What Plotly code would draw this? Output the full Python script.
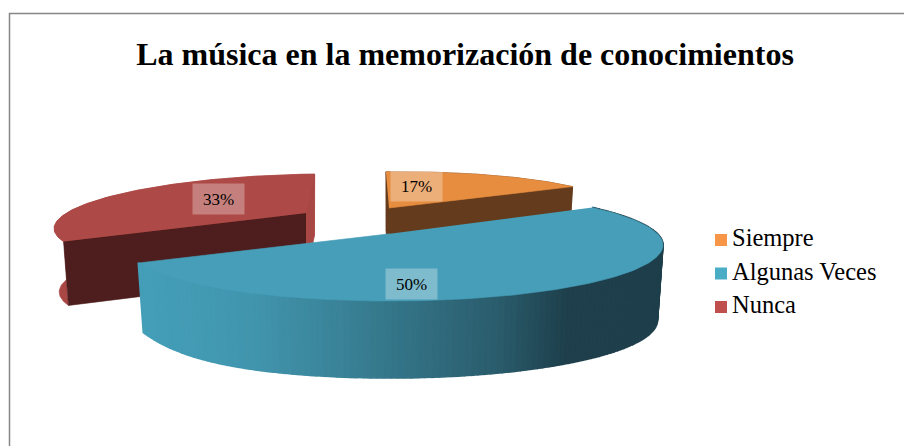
import numpy as np
import plotly.graph_objects as go

TITLE = "La música en la memorización de conocimientos"
categories = ["Siempre", "Algunas Veces", "Nunca"]
values = [17, 50, 33]
labels = ["17%", "50%", "33%"]

# --- styling / projection calibration (not data) ---
LEGEND_COLORS = ["#F79646", "#4BACC6", "#C0504D"]
TOP_COLORS = ["#E68D3F", "#469EB8", "#AD4946"]
FONT = "Liberation Serif"
W, H = 904, 446
ROTATION, PERSP = -4.2, 0.2
RX, RY = 273.0, 56.0
STYLE = {
    "Siempre": dict(apex=(389, 208), sx=.875, sy=.81, shear=-.25, h=60, faces=("#643B1C", "#643B1C"), wall="#643B1C", lift=(0, 0), lab=(416, 186)),
    "Algunas Veces": dict(apex=(390, 233.8), sx=1, sy=1, shear=0, h=75, faces=None, wall=None, lift=(6, 16), lab=(411.5, 284)),
    "Nunca": dict(apex=(306, 213), sx=.895, sy=.87, shear=-.52, h=63, faces=("#4D1E1D", "#A94744"), wall="#A94744", lift=(0, 0), lab=(218.5, 199)),
}
GRAD_X = [139, 250, 340, 500, 570, 663]
GRAD_C = [(0x45, 0x9F, 0xB9), (0x41, 0x96, 0xAE), (0x3A, 0x83, 0x98), (0x2A, 0x5C, 0x6C), (0x1E, 0x3F, 0x4B), (0x1E, 0x3F, 0x4B)]


def grad(x):
    c = [np.interp(x, GRAD_X, [g[i] for g in GRAD_C]) for i in range(3)]
    return "rgb(%d,%d,%d)" % tuple(c)


def vec(theta, lift):
    a = np.radians(np.asarray(theta, float) + ROTATION)
    X, Y = np.sin(a), np.cos(a)
    d = 1 + PERSP * Y
    Xp = X * np.sqrt(1 - PERSP ** 2) / d
    Yp = (Y + PERSP) / d
    vy = -RY * (Yp - PERSP) - lift * np.clip(-Xp, 0, 1) ** 6
    return RX * Xp, vy


def top_pts(theta, s):
    vx, vy = vec(theta, s["lift"][0])
    return s["apex"][0] + s["sx"] * vx + s["shear"] * vy, s["apex"][1] + s["sy"] * vy


def bot_pts(theta, s):
    vx, vy = vec(theta, s["lift"][1])
    return (s["apex"][0] + .98 * (s["sx"] * vx + s["shear"] * vy),
            s["apex"][1] + s["h"] + 1.03 * s["sy"] * vy)


def poly(x, y, color, width=0.6):
    return go.Scatter(x=list(x), y=list(y), mode="lines", fill="toself", fillcolor=color,
                      line=dict(color=color, width=width), hoverinfo="skip", showlegend=False)


total = sum(values)
edges = np.cumsum([0] + values) / total * 360
fig = go.Figure()

# draw order: far slices first, the front slice last
order = [2, 0, 1]
for i in order:
    s = STYLE[categories[i]]
    t0, t1 = edges[i], edges[i + 1]
    th = np.linspace(t0, t1, int((t1 - t0) / 1.2) + 2)
    tx, ty = top_pts(th, s)
    bx, by = bot_pts(th, s)
    if s["wall"]:
        fig.add_trace(poly(np.r_[tx, bx[::-1]], np.r_[ty, by[::-1]], s["wall"]))
    else:
        for j in range(len(th) - 1):
            fig.add_trace(poly([tx[j], tx[j + 1], bx[j + 1], bx[j]], [ty[j], ty[j + 1], by[j + 1], by[j]],
                               grad((tx[j] + tx[j + 1]) / 2), width=1.6))
    if s["faces"]:
        ax, ay = s["apex"]
        for k, ang in enumerate((t0, t1)):
            px, py = top_pts([ang], s)
            qx, qy = bot_pts([ang], s)
            fig.add_trace(poly([ax, px[0], qx[0], ax], [ay, py[0], qy[0], ay + s["h"]], s["faces"][k]))
    fig.add_trace(poly(np.r_[tx, s["apex"][0]], np.r_[ty, s["apex"][1]], TOP_COLORS[i]))

# legend
LEG_Y = [240, 273.5, 307]
fig.add_trace(go.Scatter(
    x=[721] * 3, y=LEG_Y, mode="markers", hoverinfo="skip", showlegend=False,
    marker=dict(symbol="square", size=12, color=LEGEND_COLORS, line=dict(width=0))))
fig.add_trace(go.Scatter(
    x=[732] * 3, y=LEG_Y, mode="text", text=categories, textposition="middle right",
    textfont=dict(family=FONT, size=24.5, color="#000000"), hoverinfo="skip", showlegend=False))

for i, c in enumerate(categories):
    lx, ly = STYLE[c]["lab"]
    fig.add_annotation(x=lx, y=ly, xref="x", yref="y", text=labels[i], showarrow=False,
                       font=dict(family=FONT, size=17, color="#000000"),
                       bgcolor="rgba(255,255,255,0.3)", width=51, height=30, borderpad=0)

fig.update_layout(
    width=W, height=H, margin=dict(l=0, r=0, t=0, b=0), autosize=False,
    paper_bgcolor="#FFFFFF", plot_bgcolor="#FFFFFF", showlegend=False,
    title=dict(text="<b>%s</b>" % TITLE, x=465 / W, y=1 - 54 / H, xref="paper", yref="paper",
               xanchor="center", yanchor="middle", font=dict(family=FONT, size=32, color="#000000")),
    xaxis=dict(range=[0, W], visible=False, fixedrange=True),
    yaxis=dict(range=[H, 0], visible=False, fixedrange=True),
    shapes=[dict(type="rect", xref="x", yref="y", x0=9.5, y0=13.5, x1=W + 20, y1=H + 20,
                 line=dict(color="#868686", width=1.5), layer="below")],
)
fig.write_html("out.html", config={"displayModeBar": False},
               post_script="document.body.style.margin='0';document.documentElement.style.overflow='hidden';")
